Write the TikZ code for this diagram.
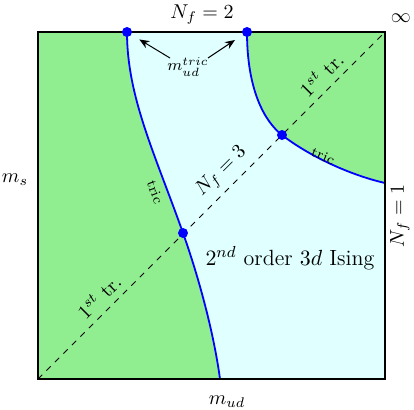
\documentclass[tikz,border=0pt]{standalone}
\usetikzlibrary{arrows.meta}
\definecolor{regiongreen}{HTML}{90EE90}
\definecolor{regioncyan}{HTML}{E0FFFF}
\begin{document}
\begin{tikzpicture}[x=0.5pt,y=0.5pt,
  dotnode/.style={circle,fill=blue,inner sep=0pt,minimum size=5pt},
  curveline/.style={blue,line width=0.9pt},
  frameline/.style={black,line width=0.8pt},
  diagline/.style={black,dashed,line width=0.4pt},
  smalllbl/.style={font=\scriptsize,inner sep=0pt},
  arrowline/.style={-{Stealth[length=5pt,width=4pt]},line width=0.5pt,shorten >=4.5pt}]
\useasboundingbox (0,0) rectangle (414,409);
\coordinate (sw) at (38,30);
\coordinate (ne) at (385,377);
\coordinate (nw) at (38,377);
\coordinate (se) at (385,30);
\coordinate (pt1) at (127,377);
\coordinate (pt2) at (247,377);
\coordinate (pmid) at (282,274);
\coordinate (plow) at (183,176);
\coordinate (pbot) at (220,30);
\coordinate (pright) at (385,226);
% regions
\fill[regioncyan] (sw) rectangle (ne);
\fill[regiongreen] (sw) -- (nw) -- (pt1) .. controls (127,312) and (155,255) .. (plow)
   .. controls (199,131) and (214,75) .. (pbot) -- cycle;
\fill[regiongreen] (pt2) .. controls (247,320) and (264,288) .. (pmid)
   .. controls (309,253) and (350,234) .. (pright) -- (ne) -- cycle;
% diagonal
\draw[diagline] (sw) -- (ne)
  node[pos=0.206,sloped,above] (l1) {$1^{st}$ tr.}
  node[pos=0.563,sloped,above] (l3) {$N_f=3$}
  node[pos=0.847,sloped,above] (l2) {$1^{st}$ tr.};
% curves
\draw[curveline] (pt1) .. controls (127,312) and (155,255) .. (plow)
   .. controls (199,131) and (214,75) .. (pbot);
\draw[curveline] (pt2) .. controls (247,320) and (264,288) .. (pmid)
   .. controls (309,253) and (350,234) .. (pright);
% frame
\draw[frameline] (sw) rectangle (ne);
% dots
\node[dotnode] (t1) at (pt1) {};
\node[dotnode] (t2) at (pt2) {};
\node[dotnode] (cmid) at (pmid) {};
\node[dotnode] (clow) at (plow) {};
% labels
\node (nf2) at (202,394) {$N_f=2$};
\node (inf) at (401,391) {$\infty$};
\node[rotate=90] (nf1) at (400,193) {$N_f=1$};
\node (ms) at (15,229) {$m_s$};
\node (mud) at (227,7) {$m_{ud}$};
\node[font=\footnotesize] (mtric) at (188,342) {$m_{ud}^{tric}$};
\coordinate (a1) at (170,351);
\coordinate (a2) at (208,351);
\draw[arrowline] (a1) -- (t1);
\draw[arrowline] (a2) -- (t2);
\node[smalllbl,rotate=-70] (tricl) at (155,217) {tric};
\node[smalllbl,rotate=-23] (tricr) at (323,253) {tric};
\node[font=\fontsize{11}{13}\selectfont] (ising) at (290,151) {$2^{nd}$ order $3d$ Ising};
\end{tikzpicture}
\end{document}
